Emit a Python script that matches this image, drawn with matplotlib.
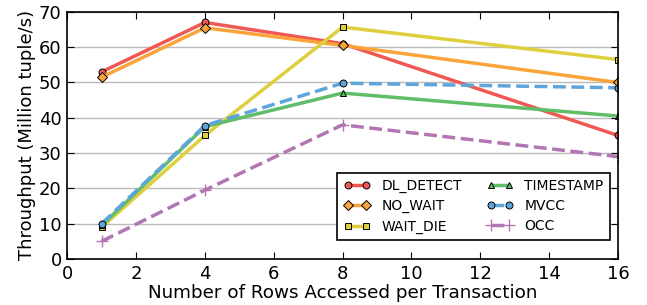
import matplotlib
matplotlib.use('Agg')
import matplotlib.pyplot as plt

# data
rows = [1, 4, 8, 16]
dl_detect = [53, 67, 61, 35]
no_wait = [51.5, 65.5, 60.5, 50]
wait_die = [9, 35, 65.7, 56.5]
timestamp = [9.5, 37.5, 47, 40.5]
mvcc = [10, 37.8, 49.8, 48.5]
occ = [5, 19.5, 38, 29]

fig = plt.figure(figsize=(6.47, 3.05), dpi=100)
ax = fig.add_axes([0.104, 0.151, 0.851, 0.810])

ax.plot(rows, dl_detect, color='#f15854', marker='o', ms=5, mec='black', mew=0.7, lw=2.5, label='DL_DETECT')
ax.plot(rows, no_wait, color='#faa43a', marker='D', ms=5, mec='black', mew=0.7, lw=2.5, label='NO_WAIT')
ax.plot(rows, wait_die, color='#decf3f', marker='s', ms=5, mec='black', mew=0.7, lw=2.5, label='WAIT_DIE')
ax.plot(rows, timestamp, color='#60bd68', marker='^', ms=5, mec='black', mew=0.7, lw=2.5, label='TIMESTAMP')
ax.plot(rows, mvcc, color='#5da5da', marker='o', ms=5, mec='black', mew=0.7, lw=2.5, ls='--', label='MVCC')
ax.plot(rows, occ, color='#b276b2', marker='+', ms=8, mew=1.0, lw=2.5, ls='--', label='OCC')

ax.set_xlim(0, 16)
ax.set_ylim(0, 70)
ax.set_xticks(range(0, 17, 2))
ax.set_yticks(range(0, 71, 10))
ax.tick_params(direction='in', top=True, right=True, labelsize=13, length=5, pad=4)
ax.yaxis.grid(True, color='#bbbbbb', lw=1)
ax.set_axisbelow(True)
for s in ax.spines.values():
    s.set_linewidth(1.2)

ax.set_xlabel('Number of Rows Accessed per Transaction', fontsize=13.2, labelpad=1)
ax.set_ylabel('Throughput (Million tuple/s)', fontsize=13, labelpad=2)

leg = ax.legend(ncol=2, loc='lower right', bbox_to_anchor=(0.985, 0.077), fontsize=10,
                fancybox=False, framealpha=1, edgecolor='black', numpoints=2,
                handlelength=1.9, handletextpad=0.8, columnspacing=1.8, labelspacing=0.45,
                borderaxespad=0, borderpad=0.45)
leg.get_frame().set_linewidth(1.2)

plt.savefig('out.png', dpi=100)
